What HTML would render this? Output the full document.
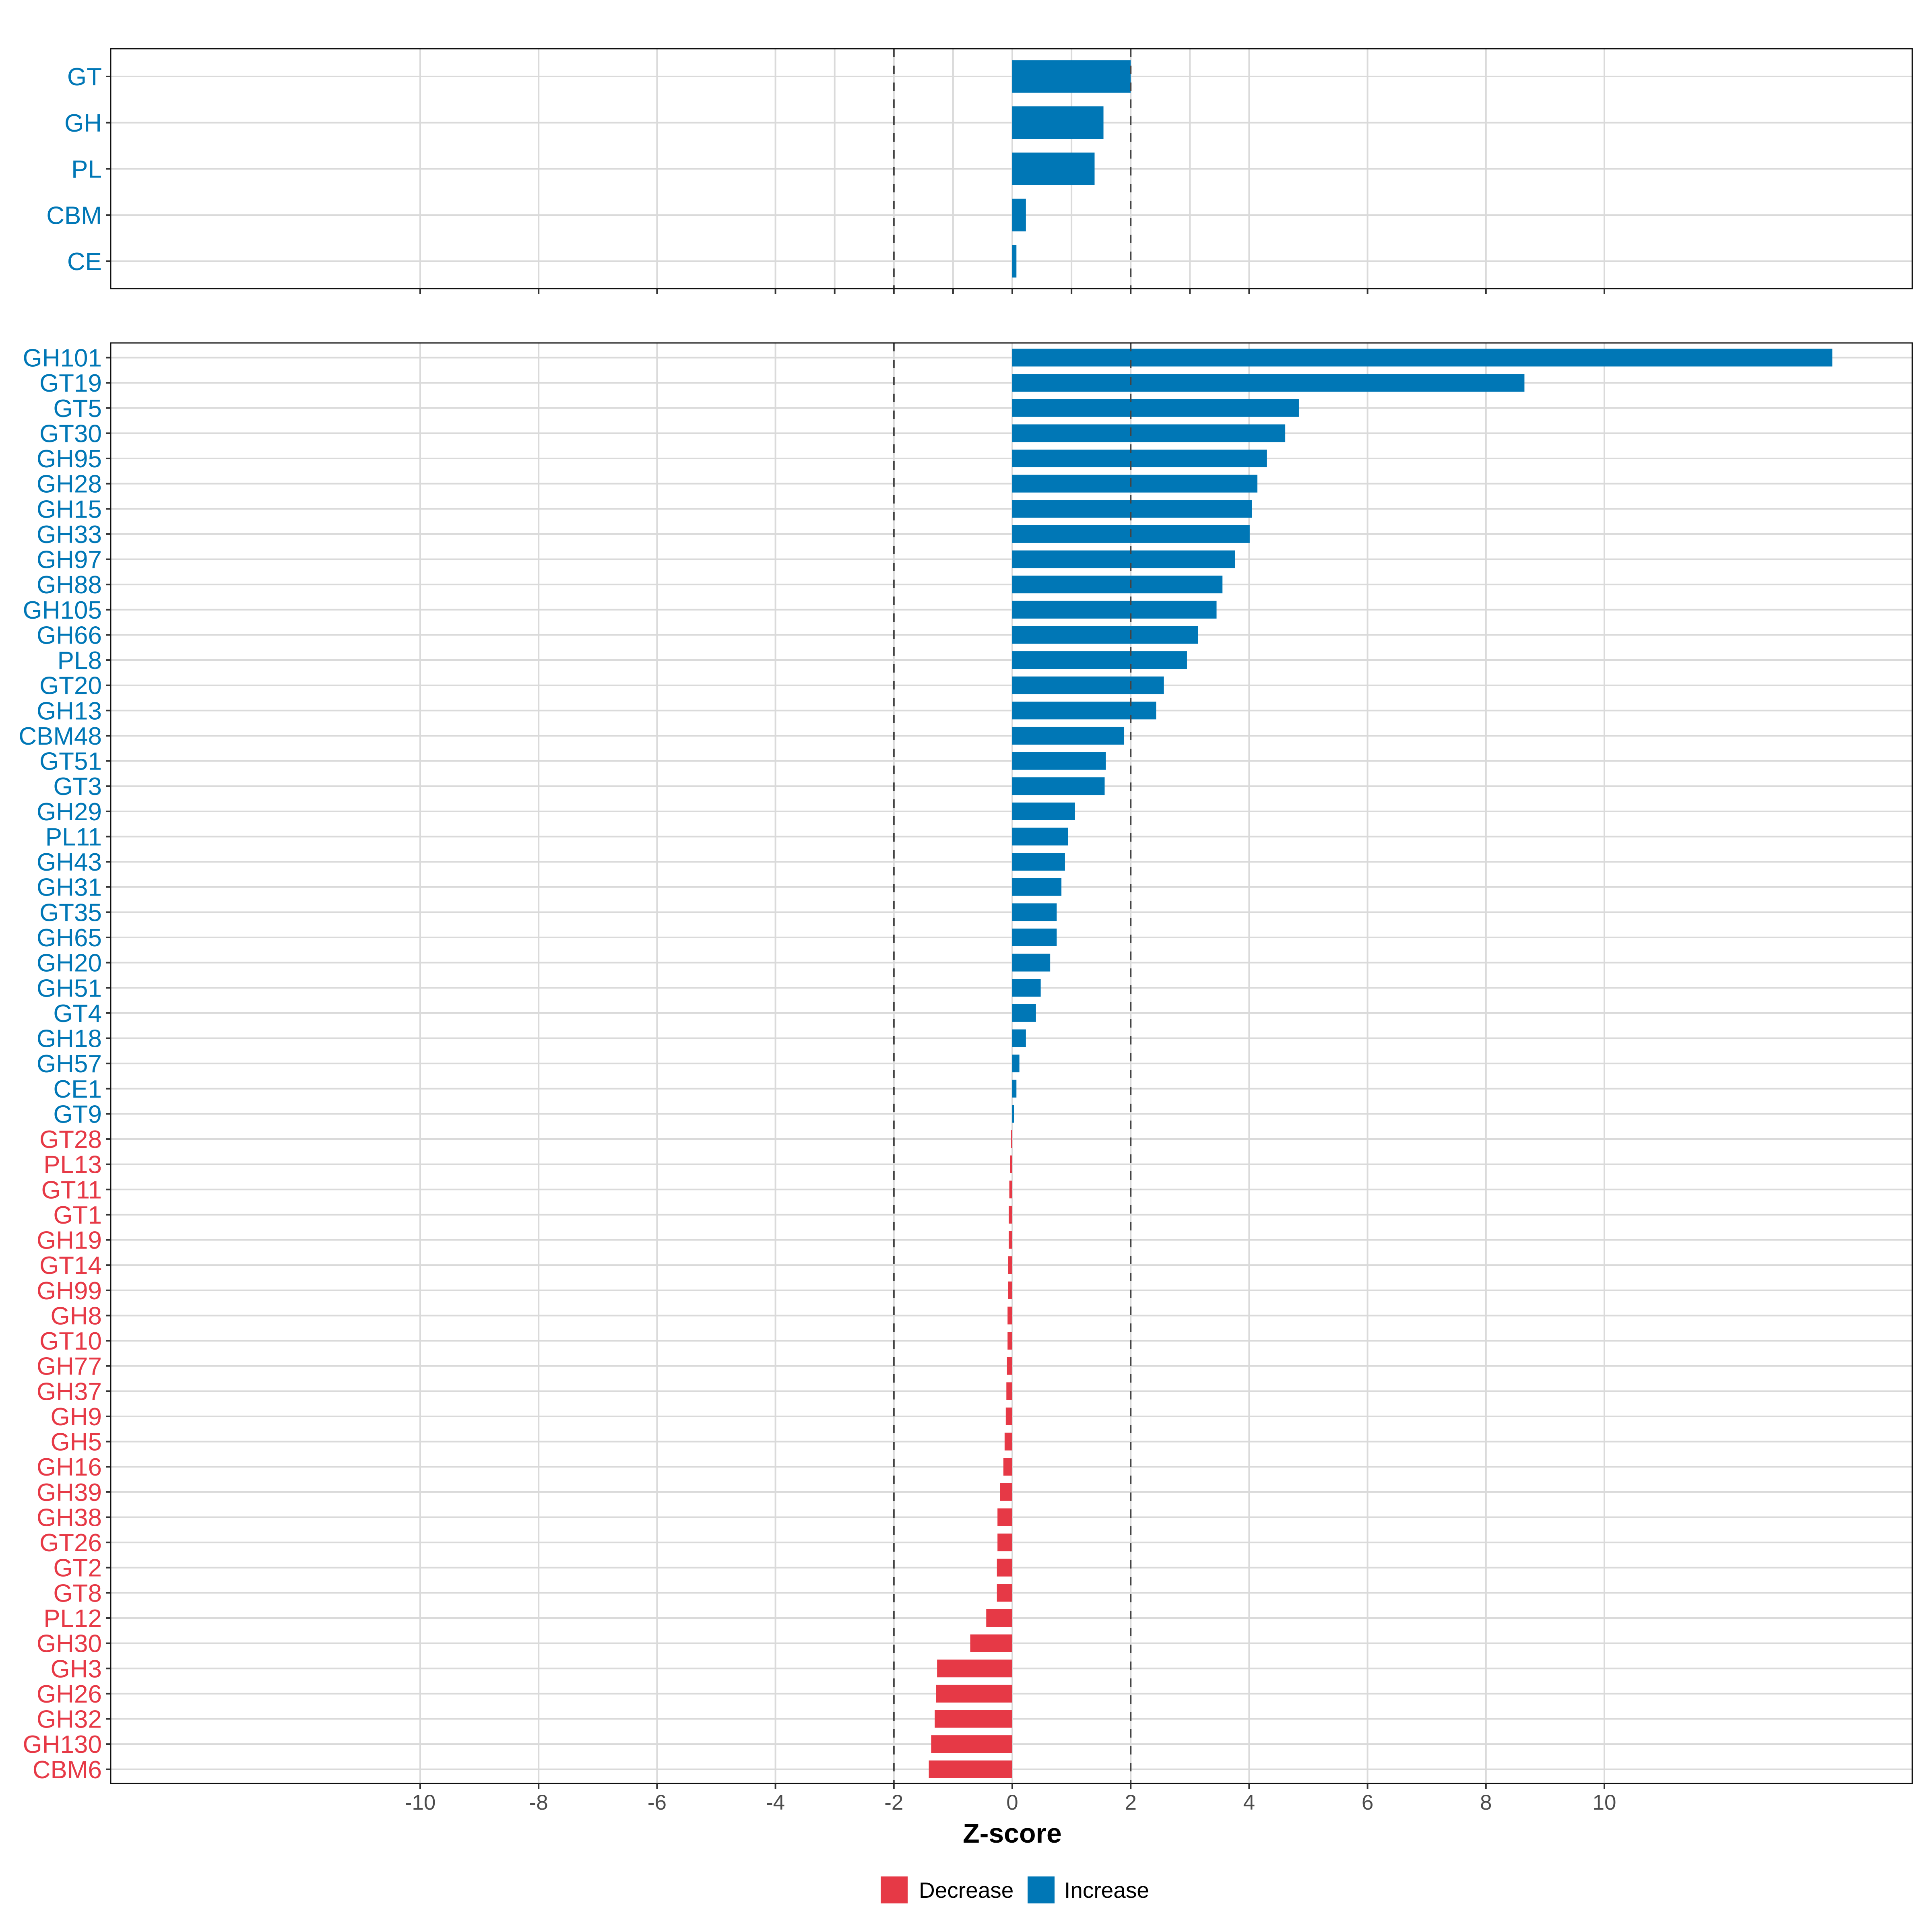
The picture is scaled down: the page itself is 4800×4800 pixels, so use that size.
<!DOCTYPE html>
<html><head><meta charset="utf-8"><style>
html,body{margin:0;padding:0;background:#fff;}
svg{display:block;font-family:"Liberation Sans",Arial,sans-serif;}
</style></head><body>
<svg id="chart" width="4800" height="4800" viewBox="0 0 4800 4800" xmlns="http://www.w3.org/2000/svg"></svg>
<script>
const topCategories = ["GT","GH","PL","CBM","CE"];
const topValues = [2.0,1.54,1.39,0.23,0.07];
const bottomCategories = ["GH101","GT19","GT5","GT30","GH95","GH28","GH15","GH33","GH97","GH88","GH105","GH66","PL8","GT20","GH13","CBM48","GT51","GT3","GH29","PL11","GH43","GH31","GT35","GH65","GH20","GH51","GT4","GH18","GH57","CE1","GT9","GT28","PL13","GT11","GT1","GH19","GT14","GH99","GH8","GT10","GH77","GH37","GH9","GH5","GH16","GH39","GH38","GT26","GT2","GT8","PL12","GH30","GH3","GH26","GH32","GH130","CBM6"];
const bottomValues = [13.85,8.65,4.84,4.61,4.30,4.14,4.05,4.01,3.76,3.55,3.45,3.14,2.95,2.56,2.43,1.89,1.58,1.56,1.06,0.94,0.89,0.83,0.75,0.75,0.64,0.48,0.40,0.23,0.12,0.07,0.03,-0.02,-0.04,-0.05,-0.06,-0.06,-0.07,-0.07,-0.08,-0.08,-0.09,-0.10,-0.11,-0.13,-0.15,-0.21,-0.25,-0.25,-0.26,-0.26,-0.44,-0.71,-1.27,-1.29,-1.31,-1.37,-1.41];
const xTickLabels = [-10,-8,-6,-4,-2,0,2,4,6,8,10];
const topGridValues = [-10,-8,-6,-4,-3,-2,-1,0,1,2,3,4,6,8,10];
const thresholds = [-2,2];

const NS="http://www.w3.org/2000/svg";
const svg=document.getElementById('chart');
const BLUE="#0077b6", RED="#e63946";
const X0=2515, UNIT=147.1, PL=275, PR=4751;
function x(v){return X0+UNIT*v;}
function el(tag,attrs,parent){const e=document.createElementNS(NS,tag);for(const k in attrs)e.setAttribute(k,attrs[k]);(parent||svg).appendChild(e);return e;}

function panel(name,top,bottom,cats,vals,rowY,barH,gridVals,tickVals){
  const g=el('g',{});
  
  
  gridVals.forEach(v=>{
    const l=el('line',{x1:x(v),x2:x(v),y1:top,y2:bottom,stroke:'#dadada','stroke-width':4},g);
    
    
  });
  cats.forEach((c,i)=>{
    const y=rowY(i);
    const l=el('line',{x1:PL,x2:PR,y1:y,y2:y,stroke:'#dadada','stroke-width':4},g);
    
    
  });
  cats.forEach((c,i)=>{
    const y=rowY(i), v=vals[i];
    const col=v>=0?BLUE:RED;
    const r=el('rect',{x:Math.min(x(0),x(v)),y:y-barH/2,width:Math.max(1.5,Math.abs(x(v)-x(0))),height:barH,fill:col},g);
    
    
    const t=el('text',{x:253,y:y+22,'text-anchor':'end','font-size':62,fill:col},g);
    t.textContent=c;
    
    
    el('line',{x1:263,x2:275,y1:y,y2:y,stroke:'#333','stroke-width':4},g);
  });
  thresholds.forEach(v=>{
    const l=el('line',{x1:x(v),x2:x(v),y1:top,y2:bottom,stroke:'#444','stroke-width':4,'stroke-dasharray':'21 21'},g);
    
    
  });
  const b=el('rect',{x:PL,y:top,width:PR-PL,height:bottom-top,fill:'none',stroke:'#111','stroke-width':3},g);
  
  
  tickVals.forEach(v=>{el('line',{x1:x(v),x2:x(v),y1:bottom,y2:bottom+13,stroke:'#333','stroke-width':4},g);});
}

panel('top-panel',121,717,topCategories,topValues,i=>190+i*114.75,81,topGridValues,topGridValues);
panel('bottom-panel',852,4431,bottomCategories,bottomValues,i=>888.5+i*62.63,44,xTickLabels,xTickLabels);

xTickLabels.forEach(v=>{
  const t=el('text',{x:x(v),y:4496,'text-anchor':'middle','font-size':53,fill:'#4d4d4d'});
  t.textContent=v;
  
  
});
const xt=el('text',{x:x(0),y:4578,'text-anchor':'middle','font-size':68,'font-weight':'bold',fill:'#000'});
xt.textContent='Z-score';



const lg=el('g',{});


const k1=el('rect',{x:2188,y:4662,width:67,height:67,fill:RED},lg);


const t1=el('text',{x:2283,y:4715,'font-size':55,fill:'#000'},lg);
t1.textContent='Decrease';


const k2=el('rect',{x:2553,y:4662,width:67,height:67,fill:BLUE},lg);


const t2=el('text',{x:2644,y:4715,'font-size':55,fill:'#000'},lg);
t2.textContent='Increase';


</script>
</body></html>
